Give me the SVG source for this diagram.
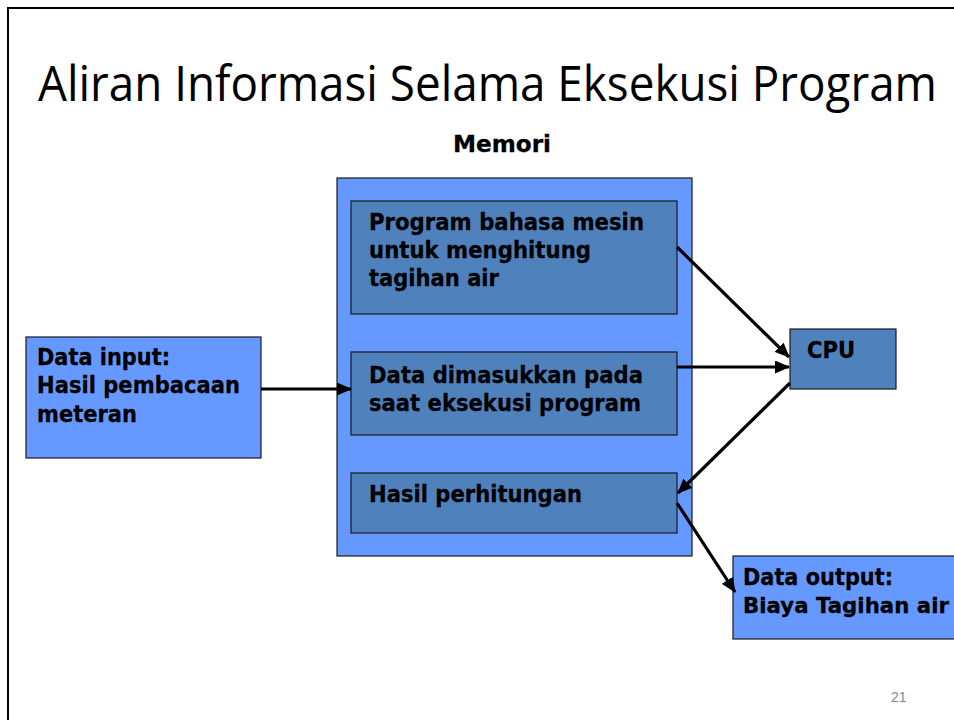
<svg xmlns="http://www.w3.org/2000/svg" width="954" height="720" viewBox="0 0 954 720">
<style>
.frame{stroke:#000;stroke-width:2;fill:none}
.light{fill:#6699FF;stroke:#1a1a1a;stroke-width:1.2}
.dark{fill:#4F81BD;stroke:#1a1a1a;stroke-width:1.2}
.t{font-family:"DejaVu Sans",Verdana,sans-serif;font-weight:bold;font-size:23.5px;fill:#000;stroke:#000;stroke-width:0.3}
.t2{font-size:21.5px}
.title{font-family:"Open Sans","Noto Sans",sans-serif;font-size:44px;fill:#000}
.num{font-family:"Liberation Sans",Arial,sans-serif;font-size:14px;fill:#888}
.conn{stroke:#000;stroke-width:3.2;fill:none;marker-end:url(#ah)}
</style>
<defs>
<marker id="ah" markerUnits="userSpaceOnUse" markerWidth="15" markerHeight="13" refX="14" refY="6.5" orient="auto">
<path d="M0,0 L15,6.5 L0,13 Z" fill="#000"/>
</marker>
</defs>
<rect x="0" y="0" width="954" height="720" fill="#fff"/>
<path class="frame" d="M8,720 L8,8 L954,8"/>
<text class="title" x="38" y="101" textLength="899" lengthAdjust="spacingAndGlyphs" transform="translate(38,101) scale(1,1.1) translate(-38,-101)">Aliran Informasi Selama Eksekusi Program</text>
<g id="memori">
<text class="t" x="453" y="152" textLength="98" lengthAdjust="spacingAndGlyphs">Memori</text>
<rect class="light" x="337" y="178" width="355" height="378"/>
</g>
<g id="program">
<rect class="dark" x="351" y="201" width="326" height="113"/>
<text class="t" x="369" y="230" textLength="275" lengthAdjust="spacingAndGlyphs">Program bahasa mesin</text>
<text class="t" x="369" y="258" textLength="222" lengthAdjust="spacingAndGlyphs">untuk menghitung</text>
<text class="t" x="369" y="286" textLength="130" lengthAdjust="spacingAndGlyphs">tagihan air</text>
</g>
<g id="data">
<rect class="dark" x="351" y="352" width="326" height="83"/>
<text class="t" x="369" y="383" textLength="274" lengthAdjust="spacingAndGlyphs">Data dimasukkan pada</text>
<text class="t" x="369" y="411" textLength="272" lengthAdjust="spacingAndGlyphs">saat eksekusi program</text>
</g>
<g id="hasil">
<rect class="dark" x="351" y="473" width="326" height="60"/>
<text class="t" x="369" y="502" textLength="213" lengthAdjust="spacingAndGlyphs">Hasil perhitungan</text>
</g>
<g id="input">
<rect class="light" x="26" y="337" width="235" height="121"/>
<text class="t" x="37" y="365" textLength="133" lengthAdjust="spacingAndGlyphs">Data input:</text>
<text class="t" x="37" y="393" textLength="203" lengthAdjust="spacingAndGlyphs">Hasil pembacaan</text>
<text class="t" x="37" y="422" textLength="100" lengthAdjust="spacingAndGlyphs">meteran</text>
</g>
<g id="cpu">
<rect class="dark" x="790" y="329" width="106" height="60"/>
<text class="t" x="807" y="358" textLength="48" lengthAdjust="spacingAndGlyphs">CPU</text>
</g>
<g id="output">
<rect class="light" x="733" y="556" width="230" height="83"/>
<text class="t" x="743" y="585" textLength="150" lengthAdjust="spacingAndGlyphs">Data output:</text>
<text class="t t2" x="743" y="613" textLength="206" lengthAdjust="spacingAndGlyphs">Biaya Tagihan air</text>
</g>
<g id="connectors">
<line class="conn" x1="261" y1="389" x2="351" y2="389"/>
<line class="conn" x1="677" y1="247" x2="789" y2="357"/>
<line class="conn" x1="677" y1="367" x2="789" y2="367"/>
<line class="conn" x1="790" y1="383" x2="678" y2="493"/>
<line class="conn" x1="677" y1="503" x2="735" y2="592"/>
</g>
<text class="num" x="891" y="702">21</text>
</svg>
